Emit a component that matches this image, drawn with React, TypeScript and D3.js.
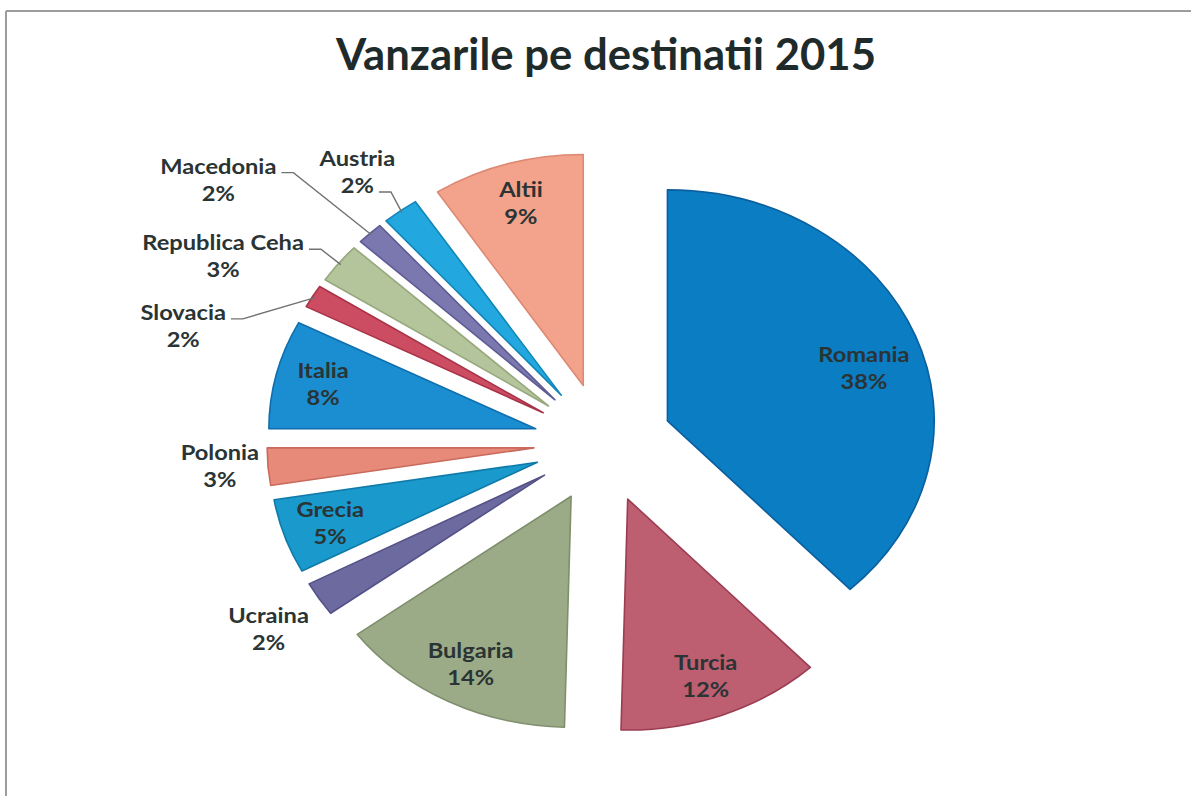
import React, { useEffect, useRef } from "react";
import * as d3 from "d3";

const title = "Vanzarile pe destinatii 2015";
const categories = [
  "Romania", "Turcia", "Bulgaria", "Ucraina", "Grecia", "Polonia",
  "Italia", "Slovacia", "Republica Ceha", "Macedonia", "Austria", "Altii",
];
const values = [38.0, 12.4, 14.4, 2.4, 5.2, 2.6, 7.6, 1.6, 2.8, 1.6, 2.2, 9.2];
const percentLabels = ["38%", "12%", "14%", "2%", "5%", "3%", "8%", "2%", "3%", "2%", "2%", "9%"];

const fills = [
  "#0b7dc3", "#bd5e71", "#9cab87", "#6d6aa0", "#1a99cd", "#e78a7a",
  "#1b8dd1", "#cc4c62", "#b4c49b", "#7b78b0", "#22a8de", "#f3a28b",
];
const strokes = [
  "#0a5f9e", "#9b3d52", "#7f8e6c", "#545188", "#0f7aa8", "#c96a5c",
  "#0f6fae", "#a83347", "#97a87e", "#5e5b94", "#1286b8", "#dd8a74",
];

// label placement (polar, relative to each exploded slice apex): angle in degrees, radius factor
const labelPlacement: Record<string, { angle?: number; r: number; outside?: boolean; leaderLine?: number }> = {
  Romania: { angle: 73, r: 0.77 },
  Ucraina: { angle: 237.2, r: 1.23, outside: true },
  Polonia: { angle: 266, r: 1.18, outside: true },
  Slovacia: { angle: 285.5, r: 1.4, outside: true, leaderLine: 0 },
  "Republica Ceha": { angle: 297.9, r: 1.38, outside: true, leaderLine: 0 },
  Macedonia: { angle: 307, r: 1.58, outside: true, leaderLine: 0 },
  Austria: { angle: 321.6, r: 1.23, outside: true, leaderLine: 1 },
};

const W = 1191;
const H = 796;
const CX = 603;
const CY = 443;
const R = 231;
const SX = 1.155;
const EXPLODE = 60;
const INSIDE_R = 0.82;

export default function App() {
  const ref = useRef<SVGSVGElement | null>(null);

  useEffect(() => {
    const svg = d3.select(ref.current);
    svg.selectAll("*").remove();

    svg.append("rect").attr("width", W).attr("height", H).attr("fill", "#ffffff");

    // frame
    svg.append("line").attr("x1", 6).attr("y1", 11).attr("x2", W).attr("y2", 11)
      .attr("stroke", "#9c9c9c").attr("stroke-width", 2);
    svg.append("line").attr("x1", 6).attr("y1", 11).attr("x2", 6).attr("y2", H)
      .attr("stroke", "#9c9c9c").attr("stroke-width", 2);

    // title
    svg.append("text")
      .attr("x", 606).attr("y", 70)
      .attr("text-anchor", "middle")
      .attr("font-family", "Lato, 'Open Sans', sans-serif")
      .attr("font-weight", 700)
      .attr("font-size", 44)
      .attr("fill", "#1f2b2b")
      .attr("textLength", 540)
      .attr("lengthAdjust", "spacingAndGlyphs")
      .text(title);

    const data = categories.map((c, i) => ({ name: c, value: values[i], pct: percentLabels[i], i }));
    const pie = d3.pie<any>().sort(null).value((d) => d.value).startAngle(0).endAngle(2 * Math.PI);
    const arcs = pie(data);
    const arc = d3.arc<any>().innerRadius(0).outerRadius(R);

    const toScreen = (ax: number, ay: number, ang: number, dist: number) => [
      ax + dist * Math.sin(ang) * SX,
      ay - dist * Math.cos(ang),
    ];

    const pieG = svg.append("g");
    arcs.forEach((a) => {
      const mid = (a.startAngle + a.endAngle) / 2;
      const ox = EXPLODE * Math.sin(mid);
      const oy = -EXPLODE * Math.cos(mid);
      pieG.append("path")
        .attr("transform", `translate(${CX},${CY}) scale(${SX},1) translate(${ox},${oy})`)
        .attr("d", arc(a) as string)
        .attr("fill", fills[a.data.i])
        .attr("stroke", strokes[a.data.i])
        .attr("stroke-width", 1.6)
        .attr("stroke-linejoin", "round")
        .attr("vector-effect", "non-scaling-stroke");
    });

    const labelG = svg.append("g");
    arcs.forEach((a) => {
      const mid = (a.startAngle + a.endAngle) / 2;
      const [apx, apy] = toScreen(CX, CY, mid, EXPLODE);
      const pl = labelPlacement[a.data.name];
      const ang = pl && pl.angle !== undefined ? (pl.angle * Math.PI) / 180 : mid;
      const rf = pl ? pl.r : INSIDE_R;
      const [lx, ly] = toScreen(apx, apy, ang, rf * R);
      const lines = [a.data.name, a.data.pct];
      const lineYs = [ly - 13.5, ly + 13.5];
      const widths: number[] = [];
      lines.forEach((t, k) => {
        const txt = labelG.append("text")
          .attr("transform", `translate(${lx},${lineYs[k] + 7}) scale(${SX},1)`)
          .attr("text-anchor", "middle")
          .attr("font-family", "Lato, 'Open Sans', sans-serif")
          .attr("font-weight", 700)
          .attr("font-size", 20.5)
          .attr("fill", "#2a3434")
          .text(t);
        const node = txt.node() as SVGTextElement;
        widths.push(node.getComputedTextLength() * SX);
      });
      if (pl && pl.leaderLine !== undefined) {
        const k = pl.leaderLine;
        const sx0 = lx + widths[k] / 2 + 5;
        const sy0 = lineYs[k] + 6;
        const [ex, ey] = toScreen(apx, apy, mid, R * 0.99);
        labelG.append("polyline")
          .attr("points", `${sx0},${sy0} ${sx0 + 12},${sy0} ${ex},${ey}`)
          .attr("fill", "none")
          .attr("stroke", "#6f7373")
          .attr("stroke-width", 1.4);
      }
    });
  }, []);

  return (
    <svg
      ref={ref}
      width={W}
      height={H}
      style={{ position: "absolute", left: 0, top: 0, display: "block" }}
    />
  );
}
